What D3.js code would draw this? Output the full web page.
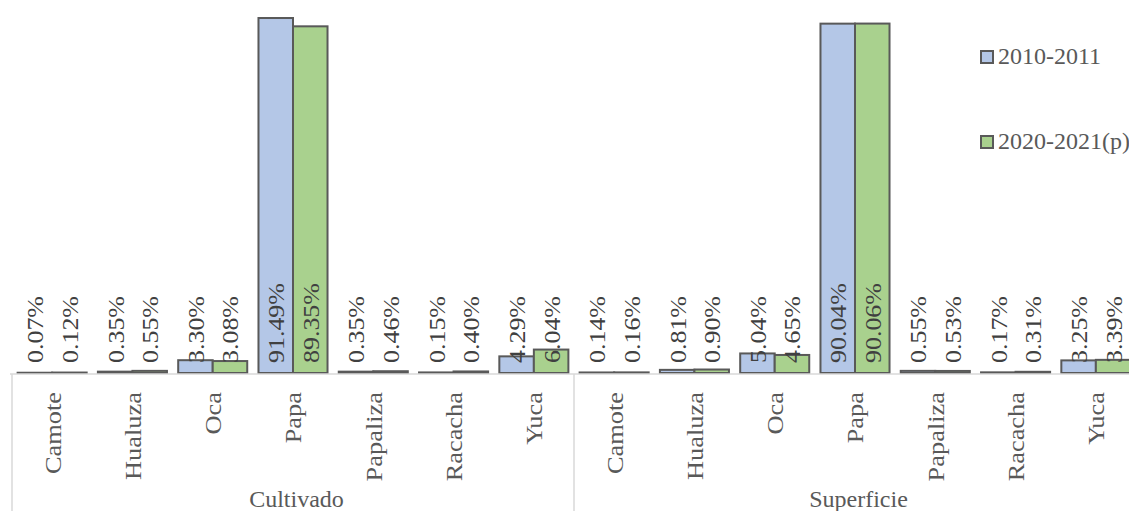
<!DOCTYPE html>
<html>
<head>
<meta charset="utf-8">
<script src="https://cdn.jsdelivr.net/npm/d3@7"></script>
<style>
	body { margin: 0; background: #fff; }
</style>
</head>
<body>
<script>
const w = 1129;
const h = 511;
const margin = {
	top: -15,
	bottom: 138,
	left: 12,
	right: -7
};
const font = 'Liberation Serif';

// data
const groups = [ 'Cultivado', 'Superficie' ];
const crops = [ 'Camote', 'Hualuza', 'Oca', 'Papa', 'Papaliza', 'Racacha', 'Yuca' ];
const series = [ '2010-2011', '2020-2021(p)' ];
const cultivado2010 = [ 0.07, 0.35, 3.3, 91.49, 0.35, 0.15, 4.29 ];
const cultivado2020 = [ 0.12, 0.55, 3.08, 89.35, 0.46, 0.4, 6.04 ];
const superficie2010 = [ 0.14, 0.81, 5.04, 90.04, 0.55, 0.17, 3.25 ];
const superficie2020 = [ 0.16, 0.9, 4.65, 90.06, 0.53, 0.31, 3.39 ];

const colors = [ '#b4c7e7', '#a9d18e' ];
const values = {
	Cultivado: [ cultivado2010, cultivado2020 ],
	Superficie: [ superficie2010, superficie2020 ]
};

let data = [];
groups.forEach(function(g) {
	crops.forEach(function(c, i) {
		data.push({ group: g, crop: c, key: g + '|' + c, v: [ values[g][0][i], values[g][1][i] ] });
	});
});

const baseline = h - margin.bottom;

let x = d3
	.scaleBand()
	.domain(
		data.map(function(d) {
			return d.key;
		})
	)
	.range([ margin.left, w - margin.right ]);

let xg = d3.scaleBand().domain(groups).range([ margin.left, w - margin.right ]);

const gap = x.bandwidth() * 0.07;
let x1 = d3.scaleBand().domain([ 0, 1 ]).range([ gap, x.bandwidth() - gap ]);

let y = d3.scaleLinear().domain([ 0, 100 ]).range([ baseline, margin.top ]);

let svg = d3.select('body').append('svg').attr('width', w).attr('height', h);

// bars
let cat = svg
	.selectAll('.cat')
	.data(data)
	.enter()
	.append('g')
	.attr('class', 'cat')
	.attr('transform', function(d) {
		return 'translate(' + x(d.key) + ',0)';
	});

cat
	.selectAll('rect')
	.data(function(d) {
		return d.v;
	})
	.enter()
	.append('rect')
	.attr('x', function(d, i) {
		return x1(i);
	})
	.attr('width', x1.bandwidth())
	.attr('y', function(d) {
		return y(d);
	})
	.attr('height', function(d) {
		return baseline - y(d);
	})
	.attr('fill', function(d, i) {
		return colors[i];
	})
	.attr('stroke', '#595959')
	.attr('stroke-width', 2);

// axis lines
svg
	.append('line')
	.attr('x1', margin.left - 2)
	.attr('x2', w)
	.attr('y1', baseline + 1)
	.attr('y2', baseline + 1)
	.attr('stroke', '#d9d9d9')
	.attr('stroke-width', 1.5);

svg
	.selectAll('.sep')
	.data(groups)
	.enter()
	.append('line')
	.attr('x1', function(d) {
		return xg(d);
	})
	.attr('x2', function(d) {
		return xg(d);
	})
	.attr('y1', baseline + 1)
	.attr('y2', h)
	.attr('stroke', '#d9d9d9')
	.attr('stroke-width', 1.5);

// value labels
cat
	.selectAll('.val-label')
	.data(function(d) {
		return d.v;
	})
	.enter()
	.append('text')
	.classed('val-label', true)
	.attr('transform', function(d, i) {
		return 'translate(' + (x1(i) + x1.bandwidth() / 2) + ',' + (baseline - 10) + ') rotate(-90) scale(1.08,1)';
	})
	.attr('dy', '0.35em')
	.attr('text-anchor', 'start')
	.attr('fill', '#404040')
	.style('font-family', font)
	.style('font-size', '24px')
	.text(function(d) {
		return d.toFixed(2) + '%';
	});

// crop names
svg
	.selectAll('.bar-label')
	.data(data)
	.enter()
	.append('text')
	.classed('bar-label', true)
	.attr('transform', function(d) {
		return 'translate(' + (x(d.key) + x.bandwidth() / 2) + ',' + (baseline + 19) + ') rotate(-90) scale(1.1,1)';
	})
	.attr('dy', '0.35em')
	.attr('text-anchor', 'end')
	.attr('fill', '#595959')
	.style('font-family', font)
	.style('font-size', '24px')
	.text(function(d) {
		return d.crop;
	});

// group names
svg
	.selectAll('.group-label')
	.data(groups)
	.enter()
	.append('text')
	.classed('group-label', true)
	.attr('x', function(d) {
		return xg(d) + (xg.bandwidth() - margin.right) / 2;
	})
	.attr('y', h - 4)
	.attr('text-anchor', 'middle')
	.attr('fill', '#595959')
	.style('font-family', font)
	.style('font-size', '24px')
	.text(function(d) {
		return d;
	});

// legend
let legend = svg
	.selectAll('.legend')
	.data(series)
	.enter()
	.append('g')
	.attr('class', 'legend')
	.attr('transform', function(d, i) {
		return 'translate(980,' + (57 + i * 85) + ')';
	});

legend
	.append('rect')
	.attr('x', 1)
	.attr('y', -6)
	.attr('width', 12)
	.attr('height', 12)
	.attr('fill', function(d, i) {
		return colors[i];
	})
	.attr('stroke', '#595959')
	.attr('stroke-width', 2);

legend
	.append('text')
	.attr('x', 18)
	.attr('y', 7)
	.attr('fill', '#595959')
	.style('font-family', font)
	.style('font-size', '24px')
	.text(function(d) {
		return d;
	});
</script>
</body>
</html>
